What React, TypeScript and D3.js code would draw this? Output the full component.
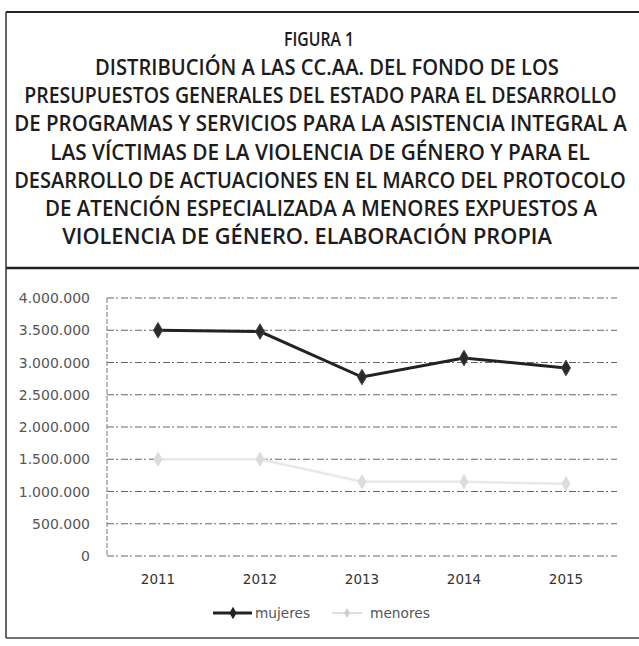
import React from "react";
import * as d3 from "d3";

const categories = ["2011", "2012", "2013", "2014", "2015"];
const mujeres = [3500000, 3480000, 2775000, 3070000, 2915000];
const menores = [1500000, 1500000, 1150000, 1150000, 1120000];
const yTicks = [0, 500000, 1000000, 1500000, 2000000, 2500000, 3000000, 3500000, 4000000];
const titleLines = [
  "FIGURA 1",
  "DISTRIBUCIÓN A LAS CC.AA. DEL FONDO DE LOS",
  "PRESUPUESTOS GENERALES DEL ESTADO PARA EL DESARROLLO",
  "DE PROGRAMAS Y SERVICIOS PARA LA ASISTENCIA INTEGRAL A",
  "LAS VÍCTIMAS DE LA VIOLENCIA DE GÉNERO Y PARA EL",
  "DESARROLLO DE ACTUACIONES EN EL MARCO DEL PROTOCOLO",
  "DE ATENCIÓN ESPECIALIZADA A MENORES EXPUESTOS A",
  "VIOLENCIA DE GÉNERO. ELABORACIÓN PROPIA",
];
const titleSpans = [
  [284, 354],
  [95, 559],
  [24, 617],
  [14, 627],
  [50, 590],
  [14, 626],
  [45, 597],
  [62, 552],
];
const titleCenters = [39, 67, 95, 123, 152, 180, 208, 236];
const legendLabels = ["mujeres", "menores"];

const fmt = (v: number) => d3.format(",")(v).replace(/,/g, ".");

function measure(text: string, font: string): number {
  if (typeof document === "undefined") return text.length * 12;
  const c = document.createElement("canvas");
  const ctx = c.getContext("2d");
  if (!ctx) return text.length * 12;
  ctx.font = font;
  return ctx.measureText(text).width;
}

export default function App() {
  const W = 639, H = 646;
  const x = d3.scaleBand().domain(categories).range([107, 617]);
  const y = d3.scaleLinear().domain([0, 4000000]).range([556, 298]);
  const cx = (c: string) => (x(c) as number) + x.bandwidth() / 2;
  const line = d3.line<number>().x((_, i) => cx(categories[i])).y((d) => y(d));
  const diamond = d3.symbol().type(d3.symbolDiamond).size(70)() as string;
  const font = "'DejaVu Sans', sans-serif";
  const titleFont = "'Open Sans', 'Noto Sans', sans-serif";
  const sizes = titleLines.map((_, i) => (i === 0 ? 19.5 : 22));
  const scales = React.useMemo(
    () =>
      titleLines.map((t, i) => {
        const w = measure(t, `600 ${sizes[i]}px 'Open Sans'`);
        return (titleSpans[i][1] - titleSpans[i][0]) / w;
      }),
    []
  );
  return (
    <svg width={W} height={H} style={{ position: "absolute", left: 0, top: 0, background: "#fff" }}>
      <rect x={0} y={0} width={W} height={H} fill="#fff" />
      {/* frame */}
      <line x1={6} x2={639} y1={12} y2={12} stroke="#222" strokeWidth={2} />
      <line x1={6} x2={639} y1={268} y2={268} stroke="#222" strokeWidth={2.5} />
      <line x1={6} x2={6} y1={12} y2={638} stroke="#333" strokeWidth={1.5} />
      <line x1={6} x2={639} y1={638} y2={638} stroke="#444" strokeWidth={1.5} />
      {/* title */}
      {titleLines.map((t, i) => (
        <text
          key={i}
          transform={`translate(${(titleSpans[i][0] + titleSpans[i][1]) / 2},${titleCenters[i] + (i === 0 ? 7 : 8)}) scale(${scales[i]},1)`}
          textAnchor="middle"
          fontFamily={titleFont}
          fontWeight={600}
          fontSize={sizes[i]}
          fill="#1c1c1c"
        >
          {t}
        </text>
      ))}
      {/* gridlines */}
      {yTicks.map((t) => (
        <line
          key={t}
          x1={107}
          x2={617}
          y1={y(t)}
          y2={y(t)}
          stroke="#666"
          strokeWidth={1}
          strokeDasharray="7 2 2 3"
        />
      ))}
      <line x1={107} x2={107} y1={y(4000000)} y2={y(0)} stroke="#777" strokeWidth={1} strokeDasharray="5 2" />
      {/* y labels */}
      {yTicks.map((t) => (
        <text key={t} x={90} y={y(t) + 5} textAnchor="end" fontFamily={font} fontSize={14} fill="#555">
          {fmt(t)}
        </text>
      ))}
      {/* x labels */}
      {categories.map((c) => (
        <text key={c} x={cx(c)} y={584} textAnchor="middle" fontFamily={font} fontSize={13.5} fill="#333">
          {c}
        </text>
      ))}
      {/* menores */}
      <path d={line(menores) as string} fill="none" stroke="#e8e8e8" strokeWidth={2.5} />
      {menores.map((v, i) => (
        <path key={i} d={diamond} transform={`translate(${cx(categories[i])},${y(v)})`} fill="#dcdcdc" />
      ))}
      {/* mujeres */}
      <path d={line(mujeres) as string} fill="none" stroke="#222" strokeWidth={3} />
      {mujeres.map((v, i) => (
        <path key={i} d={diamond} transform={`translate(${cx(categories[i])},${y(v)})`} fill="#2a2a2a" stroke="#444" strokeWidth={1} />
      ))}
      {/* legend */}
      <line x1={213} x2={252} y1={613} y2={613} stroke="#222" strokeWidth={3} />
      <path d={d3.symbol().type(d3.symbolDiamond).size(45)() as string} transform="translate(233,613)" fill="#222" />
      <text x={255} y={618} textLength={55} lengthAdjust="spacingAndGlyphs" fontFamily={font} fontSize={13.5} fill="#555">{legendLabels[0]}</text>
      <line x1={332} x2={362} y1={613} y2={613} stroke="#e0e0e0" strokeWidth={2} />
      <path d={d3.symbol().type(d3.symbolDiamond).size(30)() as string} transform="translate(347,613)" fill="#cfcfcf" />
      <text x={370} y={618} textLength={60} lengthAdjust="spacingAndGlyphs" fontFamily={font} fontSize={13.5} fill="#555">{legendLabels[1]}</text>
    </svg>
  );
}
